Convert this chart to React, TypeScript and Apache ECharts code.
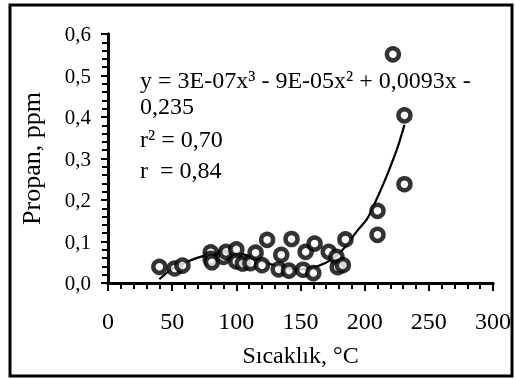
import React, { useEffect, useRef } from "react";
import * as echarts from "echarts";

const pointX = [40, 52, 58, 80, 80, 81, 90, 92, 100, 100, 105, 111, 115, 120, 124, 133, 135, 141, 143, 152, 154, 160, 161, 172, 178, 179, 183, 185, 210, 210, 222, 231, 231];
const pointY = [0.039, 0.035, 0.042, 0.074, 0.058, 0.050, 0.063, 0.075, 0.081, 0.052, 0.047, 0.048, 0.073, 0.043, 0.104, 0.033, 0.068, 0.030, 0.106, 0.032, 0.075, 0.024, 0.095, 0.075, 0.063, 0.038, 0.043, 0.105, 0.174, 0.116, 0.551, 0.404, 0.238];

const curveX = [40, 48, 57, 72, 85, 98, 111, 124, 137, 150, 163, 175, 184, 194, 202, 209, 215, 220, 226, 231];
const curveY = [0.009, 0.03, 0.045, 0.063, 0.071, 0.073, 0.064, 0.048, 0.037, 0.033, 0.040, 0.058, 0.084, 0.125, 0.155, 0.2, 0.242, 0.28, 0.33, 0.381];

const eqLines = [
  "y = 3E-07x³ - 9E-05x² + 0,0093x -",
  "0,235",
  "r² = 0,70",
  "r  = 0,84",
];
const eqY = [80, 106, 139, 170];

const xName = "Sıcaklık, °C";
const yName = "Propan, ppm";

const FONT = "Liberation Serif";

export default function App() {
  const ref = useRef<HTMLDivElement>(null);
  useEffect(() => {
    if (!ref.current) return;
    const chart = echarts.init(ref.current, null, { renderer: "svg" });
    const scatter = pointX.map((x, i) => [x, pointY[i]]);
    const curve = curveX.map((x, i) => [x, curveY[i]]);
    const tickX = {
      type: "value",
      min: 0,
      max: 300,
      interval: 50,
      position: "bottom",
      axisLine: { show: true, lineStyle: { color: "#000", width: 3 } },
      axisTick: { show: true, length: 8, lineStyle: { color: "#000", width: 2 } },
      minorTick: { show: true, splitNumber: 5, length: 6, lineStyle: { color: "#000", width: 2 } },
      splitLine: { show: false },
      axisLabel: { show: false },
    };
    const tickY = {
      type: "value",
      min: 0,
      max: 0.6,
      interval: 0.1,
      position: "left",
      axisLine: { show: true, lineStyle: { color: "#000", width: 3 } },
      axisTick: { show: true, length: 7, lineStyle: { color: "#000", width: 2 } },
      minorTick: { show: true, splitNumber: 5, length: 6, lineStyle: { color: "#000", width: 2 } },
      splitLine: { show: false },
      axisLabel: { show: false },
    };
    chart.setOption({
      animation: false,
      grid: { left: 108, right: 22, top: 34, bottom: 96 },
      xAxis: [
        {
          type: "value",
          min: 0,
          max: 300,
          interval: 50,
          position: "bottom",
          name: xName,
          nameLocation: "middle",
          nameGap: 60,
          nameTextStyle: { fontFamily: FONT, fontSize: 24, color: "#000" },
          axisLine: { show: true, lineStyle: { color: "#000", width: 3 } },
          axisTick: { show: true, length: 8, lineStyle: { color: "#000", width: 2 } },
          minorTick: { show: true, splitNumber: 5, length: 6, lineStyle: { color: "#000", width: 2 } },
          splitLine: { lineStyle: { color: "rgba(0,0,0,0)", width: 0 } },
          axisLabel: { margin: 26, fontFamily: FONT, fontSize: 24, color: "#000" },
        },
        tickX,
      ],
      yAxis: [
        {
          type: "value",
          min: 0,
          max: 0.6,
          interval: 0.1,
          position: "left",
          name: yName,
          nameLocation: "middle",
          nameGap: 64,
          nameTextStyle: { fontFamily: FONT, fontSize: 26, color: "#000" },
          axisLine: { show: true, lineStyle: { color: "#000", width: 3 } },
          axisTick: { show: true, length: 7, lineStyle: { color: "#000", width: 2 } },
          minorTick: { show: true, splitNumber: 5, length: 6, lineStyle: { color: "#000", width: 2 } },
          splitLine: { lineStyle: { color: "rgba(0,0,0,0)", width: 0 } },
          axisLabel: {
            margin: 17,
            fontFamily: FONT,
            fontSize: 21,
            color: "#000",
            formatter: (v: number) => v.toFixed(1).replace(".", ","),
          },
        },
        tickY,
      ],
      series: [
        {
          type: "line",
          xAxisIndex: 1,
          yAxisIndex: 1,
          data: curve,
          smooth: 0.3,
          showSymbol: false,
          symbol: "none",
          lineStyle: { color: "#000", width: 2.2 },
          z: 2,
        },
        {
          type: "scatter",
          xAxisIndex: 0,
          yAxisIndex: 0,
          data: scatter,
          symbol: "circle",
          symbolSize: 12,
          itemStyle: { color: "#fff", borderColor: "#000", borderWidth: 4.5 },
          z: 3,
        },
      ],
      graphic: [
        {
          type: "rect",
          shape: { x: 10, y: 5, width: 502, height: 371 },
          style: { fill: "none", stroke: "#000", lineWidth: 3 },
          silent: true,
        },
        ...eqLines.map((t, i) => ({
          type: "text",
          x: 140,
          y: eqY[i] - 12,
          style: {
            text: t,
            fontFamily: FONT,
            fontSize: 24,
            fill: "#000",
          },
        })),
      ],
    });
    return () => chart.dispose();
  }, []);
  return <div ref={ref} style={{ position: "fixed", left: 0, top: 0, width: 515, height: 379 }} />;
}
